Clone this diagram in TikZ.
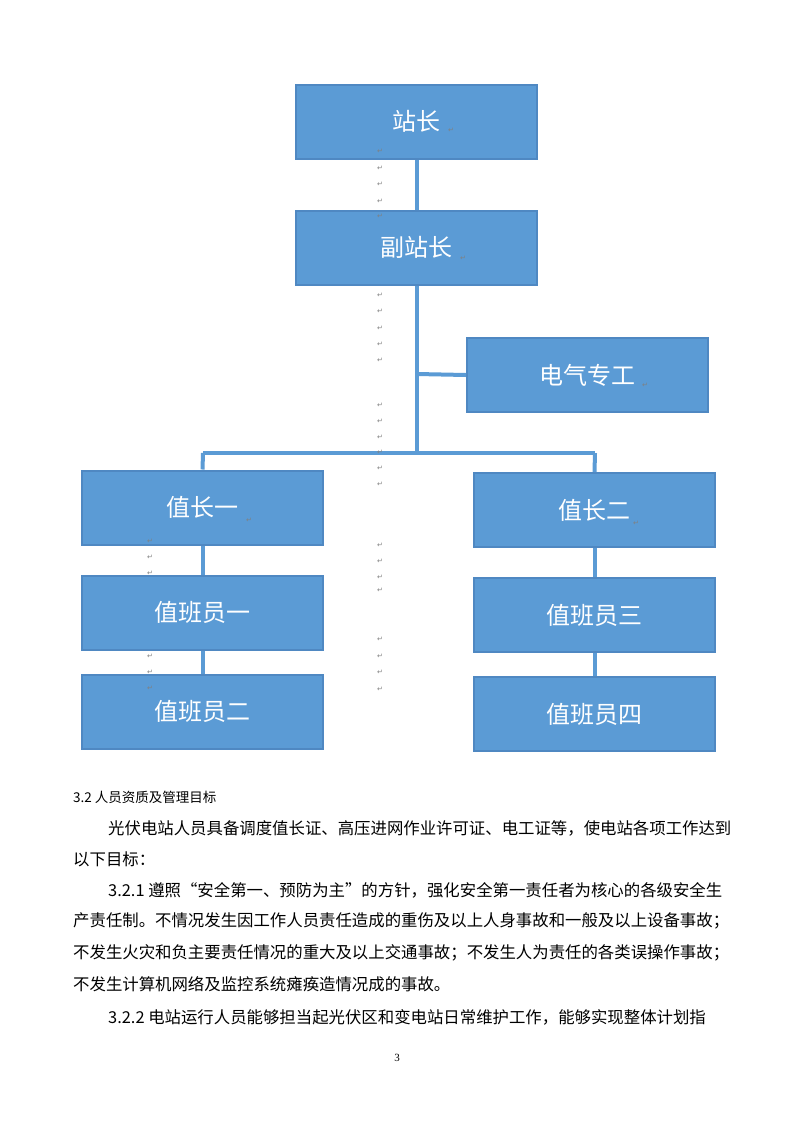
\documentclass[tikz,border=0pt]{standalone}
\usepackage{fontspec}
\setmainfont{Liberation Serif}
\newfontfamily\cjk{Noto Sans CJK SC}
\newfontfamily\sym{DejaVu Sans}
\definecolor{boxblue}{HTML}{5B9BD5}
\definecolor{boxedge}{HTML}{4F88C2}
\begin{document}
\begin{tikzpicture}[x=1pt,y=-1pt,
  box/.style={draw=boxedge,line width=2pt,fill=boxblue,minimum width=241pt,minimum height=74pt,inner sep=0pt,font=\cjk\fontsize{24}{28}\selectfont,text=white},
  conn/.style={draw=boxblue,line width=4pt},
  ret/.style={font=\sym\fontsize{7}{8}\selectfont,text=gray,inner sep=0pt},
  body/.style={anchor=west,inner sep=0pt,font=\cjk\fontsize{16.4}{18}\selectfont}]
\useasboundingbox (0,0) rectangle (793,1122);
\node[box] (zz) at (416.5,121.5) {站长};
\node[box] (fz) at (416.5,247.5) {副站长};
\node[box] (dq) at (587.5,375) {电气专工};
\node[box] (z1) at (202.5,507.5) {值长一};
\node[box] (z2) at (594.5,510) {值长二};
\node[box] (b1) at (202.5,612.5) {值班员一};
\node[box] (b3) at (594.5,615) {值班员三};
\node[box] (b2) at (202.5,711.5) {值班员二};
\node[box] (b4) at (594.5,714) {值班员四};
\coordinate (t1) at (417,374);
\coordinate (t2) at (417,453);
\coordinate (l1) at (203,453);
\coordinate (r1) at (595,453);
\draw[conn] (zz.south -| t1) -- (fz.north -| t1);
\draw[conn] (fz.south -| t1) -- (t2);
\draw[conn] (t1) -- (dq.west);
\draw[conn] (l1) -- (r1);
\draw[conn] (l1) -- (z1.north);
\draw[conn] (r1) -- (z2.north);
\draw[conn] (z1.south) -- (b1.north);
\draw[conn] (b1.south) -- (b2.north);
\draw[conn] (z2.south) -- (b3.north);
\draw[conn] (b3.south) -- (b4.north);
\foreach \y [count=\i] in {151,168,184,201,216,295,311,328,344,360,405,421,437,452,468,484,545,561,577,590,639,656,672,689}
  \node[ret] (r\i) at (380,\y) {↵};
\foreach \y [count=\i] in {541,557,573,656,672,688}
  \node[ret] (s\i) at (150,\y) {↵};
\node[ret] (a1) at (451,130) {↵};
\node[ret] (a2) at (463,258) {↵};
\node[ret] (a3) at (645,385) {↵};
\node[ret] (a4) at (249,520) {↵};
\node[ret] (a5) at (636,523) {↵};
\node[anchor=west,inner sep=0pt,font=\cjk\fontsize{13.5}{16}\selectfont] (h) at (73,797) {3.2 人员资质及管理目标};
\node[body] (p1) at (108,828) {光伏电站人员具备调度值长证、高压进网作业许可证、电工证等，使电站各项工作达到};
\node[body] (p2) at (73,859) {以下目标：};
\node[body] (p3) at (108,890) {3.2.1 遵照“安全第一、预防为主”的方针，强化安全第一责任者为核心的各级安全生};
\node[body] (p4) at (73,921) {产责任制。不情况发生因工作人员责任造成的重伤及以上人身事故和一般及以上设备事故；};
\node[body] (p5) at (73,953) {不发生火灾和负主要责任情况的重大及以上交通事故；不发生人为责任的各类误操作事故；};
\node[body] (p6) at (73,984) {不发生计算机网络及监控系统瘫痪造情况成的事故。};
\node[body] (p7) at (108,1017) {3.2.2 电站运行人员能够担当起光伏区和变电站日常维护工作，能够实现整体计划指};
\node[font=\fontsize{11}{13}\selectfont,inner sep=0pt] (pg) at (397,1058) {3};
\end{tikzpicture}
\end{document}
